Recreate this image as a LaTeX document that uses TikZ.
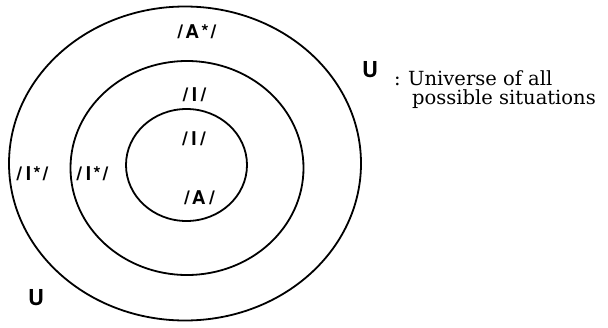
\documentclass[tikz,border=0pt]{standalone}
\usepackage{fontspec}
\usetikzlibrary{shapes.geometric}
\newfontfamily\lblfont[LetterSpace=12]{TeX Gyre Heros}
\newfontfamily\ufont{TeX Gyre Heros}
\newfontfamily\txtfont{DejaVu Serif}
\begin{document}
\begin{tikzpicture}[x=1pt,y=-1pt,
  ring/.style={draw=black,line width=1.8pt,ellipse,inner sep=0pt},
  lbl/.style={font=\lblfont\bfseries\fontsize{19}{19}\selectfont,inner sep=0pt},
  bigu/.style={font=\ufont\bfseries\fontsize{22}{22}\selectfont,inner sep=0pt},
  expl/.style={font=\txtfont\fontsize{19.5}{19.5}\selectfont,inner sep=0pt,anchor=base west}]
\useasboundingbox (0,0) rectangle (608,327);
\node[ring,minimum width=352pt,minimum height=314pt] (outer) at (185,163.5) {};
\node[ring,minimum width=233pt,minimum height=214pt] (middle) at (187,168) {};
\node[ring,minimum width=121pt,minimum height=112pt] (inner) at (186.5,165) {};
\node[lbl] (astar) at (197,31.5) {/A*/};
\node[lbl] (imid) at (194.5,94.5) {/\hspace{.2em}I\hspace{.2em}/};
\node[lbl] (iin) at (194,139) {/\hspace{.2em}I\hspace{.2em}/};
\node[lbl] (ain) at (199.5,198) {/A\hspace{.2em}/};
\node[lbl] (istarout) at (32.5,174) {/\hspace{.2em}I*/};
\node[lbl] (istarmid) at (92.5,174) {/\hspace{.2em}I*/};
\node[bigu] (ubot) at (36,297.5) {U};
\node[bigu] (uright) at (370,69.5) {U};
\node[expl] (colon) at (394,85) {:};
\node[expl] (uni1) at (408,85) {Universe of all};
\node[expl] (uni2) at (412,104) {possible situations};
\end{tikzpicture}
\end{document}
